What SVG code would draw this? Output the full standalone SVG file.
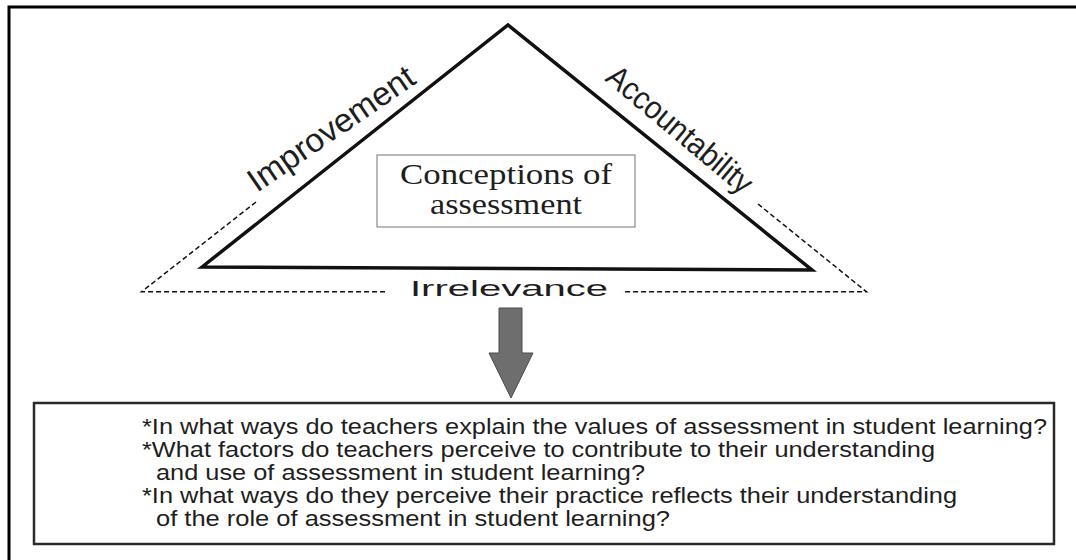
<svg xmlns="http://www.w3.org/2000/svg" width="1076" height="560" viewBox="0 0 1076 560">
<defs>
<style>
.sans{font-family:"Liberation Sans",Arial,sans-serif;fill:#1e1e1e}
.serif{font-family:"Liberation Serif","Times New Roman",serif;fill:#1e1e1e}
.dash{fill:none;stroke:#111;stroke-width:1.5;stroke-dasharray:5,3}
.q{font-size:22px}
</style>
</defs>
<rect width="1076" height="560" fill="#fff"/>
<g id="frame"><polyline points="9,560 9,7 1076,7" fill="none" stroke="#000" stroke-width="3"/></g>
<g id="triangle">
<polygon points="202,267 508,25 812,270" fill="none" stroke="#111" stroke-width="3.5" stroke-linejoin="miter"/>
<text class="sans" font-size="33" transform="translate(257,193) rotate(-34.5)" textLength="195" lengthAdjust="spacingAndGlyphs">Improvement</text>
<text class="sans" font-size="32" transform="translate(604,80) rotate(40)" textLength="180" lengthAdjust="spacingAndGlyphs">Accountability</text>
</g>
<g id="irrelevance">
<text class="sans" font-size="21.5" x="410" y="296" textLength="198" lengthAdjust="spacingAndGlyphs">Irrelevance</text>
</g>
<g id="conceptions">
<rect x="377" y="155" width="258" height="72" fill="#fff" stroke="#8a8a8a" stroke-width="1.2"/>
<text class="serif" font-size="29" x="400" y="184" textLength="212" lengthAdjust="spacingAndGlyphs">Conceptions of</text>
<text class="serif" font-size="29" x="430" y="214" textLength="152" lengthAdjust="spacingAndGlyphs">assessment</text>
</g>
<g id="connectors">
<polyline class="dash" points="256,202 141.5,291.8 385,291.8"/>
<polyline class="dash" points="758,204 866.5,291.8 622,291.8"/>
<polygon points="499,308 522,308 522,353 533,353 511,398 489,353 499,353" fill="#6e6e6e" stroke="#4a4a4a" stroke-width="1"/>
</g>
<g id="questions">
<rect x="34" y="403" width="1020" height="141" fill="#fff" stroke="#2a2a2a" stroke-width="2.5"/>
<text class="sans q" x="142" y="434" textLength="905" lengthAdjust="spacingAndGlyphs">*In what ways do teachers explain the values of assessment in student learning?</text>
<text class="sans q" x="142" y="457" textLength="793" lengthAdjust="spacingAndGlyphs">*What factors do teachers perceive to contribute to their understanding</text>
<text class="sans q" x="156" y="480" textLength="489" lengthAdjust="spacingAndGlyphs">and use of assessment in student learning?</text>
<text class="sans q" x="142" y="503" textLength="815" lengthAdjust="spacingAndGlyphs">*In what ways do they perceive their practice reflects their understanding</text>
<text class="sans q" x="156" y="526" textLength="514" lengthAdjust="spacingAndGlyphs">of the role of assessment in student learning?</text>
</g>
</svg>
